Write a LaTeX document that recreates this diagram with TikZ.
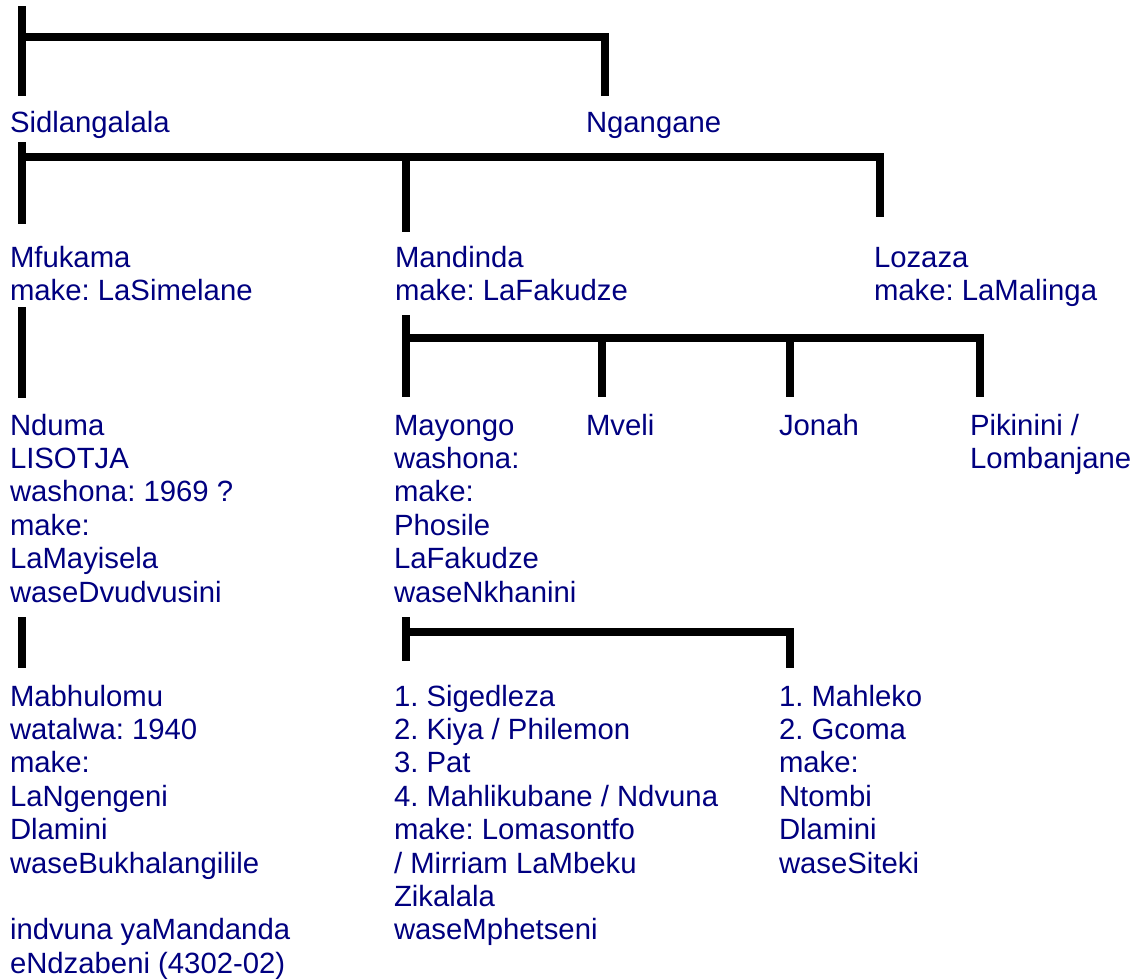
\documentclass[tikz,border=0pt]{standalone}
\usepackage{fontspec}
\setmainfont{Liberation Sans}
\definecolor{navytext}{RGB}{0,0,128}
\frenchspacing
\begin{document}
\begin{tikzpicture}[x=1pt,y=-1pt,
  person/.style={anchor=base west,inner sep=0pt,outer sep=0pt,text=navytext,
    font=\fontsize{29.3}{33.4}\selectfont\frenchspacing},
  bar/.style={line width=7.5pt,line cap=butt,line join=miter,draw=black}]
\useasboundingbox[fill=white] (0,0) rectangle (1136,980);
\newcommand{\lines}[1]{\begin{tabular}[t]{@{}l@{}}#1\end{tabular}}
% text nodes
\node[person] (sid) at (10,132) {Sidlangalala};
\node[person] (ngan) at (586,132) {Ngangane};
\node[person] (mfu) at (10,267) {\lines{Mfukama\\make: LaSimelane}};
\node[person] (man) at (395,267) {\lines{Mandinda\\make: LaFakudze}};
\node[person] (loz) at (874,267) {\lines{Lozaza\\make: LaMalinga}};
\node[person] (ndu) at (10,435) {\lines{Nduma\\LISOTJA\\washona: 1969 ?\\make:\\LaMayisela\\waseDvudvusini}};
\node[person] (may) at (394,435) {\lines{Mayongo\\washona:\\make:\\Phosile\\LaFakudze\\waseNkhanini}};
\node[person] (mve) at (586,435) {Mveli};
\node[person] (jon) at (779,435) {Jonah};
\node[person] (pik) at (970,435) {\lines{Pikinini /\\Lombanjane}};
\node[person] (mab) at (10,706) {\lines{Mabhulomu\\watalwa: 1940\\make:\\LaNgengeni\\Dlamini\\waseBukhalangilile\\ \\indvuna yaMandanda\\eNdzabeni (4302-02)}};
\node[person] (sig) at (394,706) {\lines{1. Sigedleza\\2. Kiya / Philemon\\3. Pat\\4. Mahlikubane / Ndvuna\\make: Lomasontfo\\/ Mirriam LaMbeku\\Zikalala\\waseMphetseni}};
\node[person] (mah) at (779,706) {\lines{1. Mahleko\\2. Gcoma\\make:\\Ntombi\\Dlamini\\waseSiteki}};
% connector coordinates
\coordinate (a1) at (22,6);   \coordinate (a2) at (22,96);
\coordinate (ah) at (22,37);  \coordinate (ar) at (605,96);
\coordinate (b1) at (22,142); \coordinate (b2) at (22,224);
\coordinate (bh) at (22,157); \coordinate (br) at (880,217);
\coordinate (bm1) at (406,157); \coordinate (bm2) at (406,232);
\coordinate (c1) at (22,307); \coordinate (c2) at (22,398);
\coordinate (d1) at (406,315); \coordinate (d2) at (406,397);
\coordinate (dh) at (406,338); \coordinate (dr) at (980,397);
\coordinate (dm1) at (602,338); \coordinate (dm2) at (602,397);
\coordinate (dn1) at (790,338); \coordinate (dn2) at (790,397);
\coordinate (e1) at (22,617); \coordinate (e2) at (22,668);
\coordinate (f1) at (406,617); \coordinate (f2) at (406,661);
\coordinate (fh) at (406,632); \coordinate (fr) at (790,668);
% brackets
\draw[bar] (a1) -- (a2);
\draw[bar] (ah) -| (ar);
\draw[bar] (b1) -- (b2);
\draw[bar] (bh) -| (br);
\draw[bar] (bm1) -- (bm2);
\draw[bar] (c1) -- (c2);
\draw[bar] (d1) -- (d2);
\draw[bar] (dh) -| (dr);
\draw[bar] (dm1) -- (dm2);
\draw[bar] (dn1) -- (dn2);
\draw[bar] (e1) -- (e2);
\draw[bar] (f1) -- (f2);
\draw[bar] (fh) -| (fr);
\end{tikzpicture}
\end{document}
